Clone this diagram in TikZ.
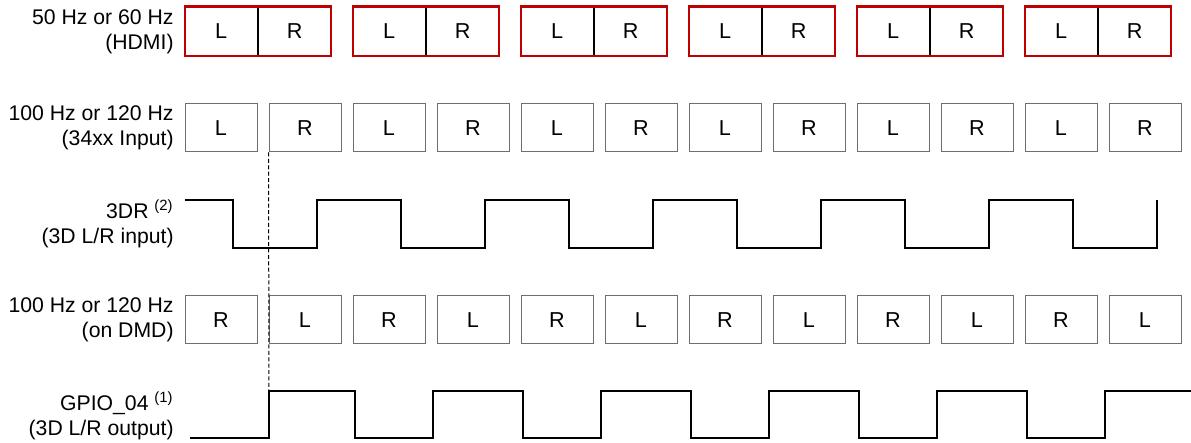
\documentclass[tikz,border=0pt]{standalone}
\usepackage{fontspec}
\setmainfont{Liberation Sans}
\definecolor{hdmired}{HTML}{C00000}
\definecolor{slotgray}{HTML}{6E6E6E}
\tikzset{
  lbl/.style   = {anchor=east, align=right, inner sep=0pt,
                  font=\fontsize{10.6}{12.5}\selectfont},
  half/.style  = {draw=black, line width=0.4pt, inner sep=0pt,
                  minimum width=36.25pt, minimum height=24.5pt,
                  font=\fontsize{10.8}{12.5}\selectfont},
  frame/.style = {draw=hdmired, line width=1.1pt},
  slot/.style  = {draw=slotgray, line width=0.5pt, inner sep=0pt,
                  minimum width=36pt, minimum height=24pt,
                  font=\fontsize{10.8}{12.5}\selectfont},
  sig/.style   = {line width=1.15pt}
}

\begin{document}
\begin{tikzpicture}[x=0.5pt, y=-0.5pt]
\useasboundingbox (0,0) rectangle (1191,443);

% row labels
\node[lbl] (hdmi) at (174,31.5) {50 Hz or 60 Hz\\(HDMI)};
\node[lbl] (inp)  at (174,128)  {100 Hz or 120 Hz\\(34xx Input)};
\node[lbl] (dr)   at (174,224)  {3DR \textsuperscript{(2)}\\(3D L/R input)};
\node[lbl] (dmd)  at (174,320)  {100 Hz or 120 Hz\\(on DMD)};
\node[lbl] (gp)   at (174,416)  {GPIO\_04 \textsuperscript{(1)}\\(3D L/R output)};

% HDMI frames: L|R pairs
\foreach \k in {0,...,5}{
  \node[half] (hl\k) at ({221.25+168*\k},31.5) {L};
  \node[half, anchor=west] (hr\k) at (hl\k.east) {R};
  \draw[frame] (hl\k.north west) rectangle (hr\k.south east);
}

% input and DMD slots
\foreach \i in {0,...,11}{
  \node[slot] (in\i)  at ({221+84*\i},128) {\ifodd\i R\else L\fi};
  \node[slot] (dmd\i) at ({221+84*\i},320) {\ifodd\i L\else R\fi};
}

% 3DR waveform
\draw[sig] (185,200)
  \foreach \k in {0,...,5}{
    -- ({233+168*\k},200) -- ({233+168*\k},248)
    -- ({317+168*\k},248) -- ({317+168*\k},200)};

% GPIO_04 waveform
\draw[sig] (190,438) -- (269,438) -- (269,391) coordinate (gprise)
  \foreach \k in {0,...,4}{
    -- ({355+168*\k},391) -- ({355+168*\k},438)
    -- ({433+168*\k},438) -- ({433+168*\k},391)}
  -- (1191,391);

% reference edge
\draw[line width=0.5pt, dash pattern=on 2pt off 1.2pt] (in1.south west) -- (gprise);
\end{tikzpicture}
\end{document}
